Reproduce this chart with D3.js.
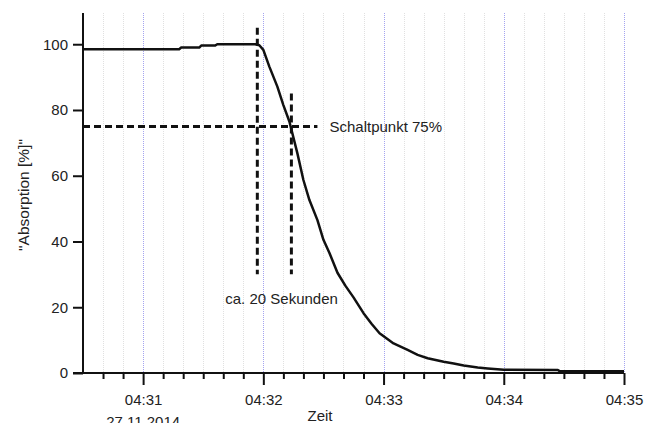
<!DOCTYPE html>
<html>
<head>
<meta charset="utf-8">
<script src="https://cdn.jsdelivr.net/npm/d3@7"></script>
<style>
  html, body { margin: 0; padding: 0; background: #fff; }
  svg { display: block; }
  text { font-family: "Liberation Sans", Arial, sans-serif; fill: #222; }
</style>
</head>
<body>
<svg id="chart" width="660" height="423"></svg>
<script>
// ---- data ----
const dateStr = "2014-11-27";
const times = ["04:30:30","04:31:18","04:31:19","04:31:28","04:31:29","04:31:36","04:31:37","04:31:56","04:31:58",
  "04:32:00","04:32:03","04:32:07","04:32:10","04:32:13","04:32:17","04:32:20","04:32:23","04:32:27","04:32:30",
  "04:32:33","04:32:37","04:32:41","04:32:45","04:32:50","04:32:54","04:32:58","04:33:05","04:33:12","04:33:17",
  "04:33:22","04:33:30","04:33:35","04:33:40","04:33:47","04:33:52","04:34:00","04:34:27","04:34:28","04:35:00"];
const absorption = [98.5,98.5,99.0,99.0,99.6,99.6,100,100,99.7,
  98.3,93.2,87.1,81.5,76.5,66.8,58.7,52.6,46.5,40.5,
  36.5,30.5,26.5,23,18.2,15,12.1,9.0,7.0,5.5,
  4.5,3.4,2.9,2.3,1.7,1.4,1.0,0.9,0.5,0.5];
const yTicks = [0, 20, 40, 60, 80, 100];
const xDomain = ["04:30:30", "04:35:00"];
const dateLabel = "27.11.2014";
const yTitle = "\"Absorption [%]\"";
const xTitle = "Zeit";
// annotations
const vLines = [{t: "04:31:57", y0: 30, y1: 105}, {t: "04:32:14", y0: 30, y1: 85}];
const hLine = {t0: "04:30:30", t1: "04:32:27", y: 75};
const notes = [{t: "04:32:33", y: 75, text: "Schaltpunkt 75%"}, {t: "04:31:41", y: 22.5, text: "ca. 20 Sekunden"}];

// ---- setup ----
const parse = d3.timeParse("%Y-%m-%d %H:%M:%S");
const T = s => parse(dateStr + " " + s);
const data = times.map((t, i) => ({t: T(t), v: absorption[i]}));

const svg = d3.select("#chart");
const mLeft = 83, mRight = 624, mTop = 13, mBottom = 373;
const x = d3.scaleTime().domain(xDomain.map(T)).range([mLeft, mRight]);
const y = d3.scaleLinear().domain([0, 109.5]).range([mBottom, mTop]);

// grid
const minorTicks = d3.timeSecond.every(10).range(T("04:30:40"), d3.timeSecond.offset(T(xDomain[1]), 1));
const majorTicks = d3.timeMinute.every(1).range(T("04:31:00"), d3.timeSecond.offset(T(xDomain[1]), 1));
const isMajor = d => d.getSeconds() === 0;
svg.append("g").selectAll("line").data(minorTicks).join("line")
  .attr("x1", d => Math.round(x(d)) + 0.5).attr("x2", d => Math.round(x(d)) + 0.5)
  .attr("y1", mTop).attr("y2", mBottom)
  .attr("stroke", d => isMajor(d) ? "#a4a4f0" : "#e0e0e0")
  .attr("stroke-width", 1)
  .attr("stroke-dasharray", "1,1");

// x axis minor ticks
const xAxisMinor = d3.axisBottom(x).tickValues(minorTicks.filter(d => !isMajor(d))).tickSize(6).tickFormat("");
const gxm = svg.append("g").attr("transform", `translate(0,${mBottom})`).call(xAxisMinor);
// x axis major
const xAxis = d3.axisBottom(x).tickValues(majorTicks).tickSize(12).tickPadding(9).tickFormat(d3.timeFormat("%H:%M"));
const gx = svg.append("g").attr("transform", `translate(0,${mBottom})`).call(xAxis);
[gx, gxm].forEach(g => {
  g.select(".domain").attr("stroke", "#111").attr("stroke-width", 2);
  g.selectAll(".tick line").attr("stroke", "#111").attr("stroke-width", 2);
});
gx.selectAll(".tick text").attr("font-size", 15).attr("fill", "#222").style("font-family", "Liberation Sans, Arial, sans-serif");
gx.select(".domain").attr("d", `M${mLeft - 10},0H${mRight}`);
gxm.select(".domain").remove();

// date second line under first major tick
svg.append("text").attr("x", x(majorTicks[0])).attr("y", 427)
  .attr("text-anchor", "middle").attr("font-size", 15).text(dateLabel);

// y axis
const yAxis = d3.axisLeft(y).tickValues(yTicks).tickSize(10).tickPadding(5);
const gy = svg.append("g").attr("transform", `translate(${mLeft},0)`).call(yAxis);
gy.select(".domain").attr("stroke", "#111").attr("stroke-width", 2).attr("d", `M0,${mTop}V${mBottom}`);
gy.selectAll(".tick line").attr("stroke", "#111").attr("stroke-width", 2);
gy.selectAll(".tick text").attr("font-size", 15).attr("fill", "#222").style("font-family", "Liberation Sans, Arial, sans-serif");

// titles
svg.append("text").attr("transform", `translate(29,195) rotate(-90)`)
  .attr("text-anchor", "middle").attr("font-size", 15.5).text(yTitle);
svg.append("text").attr("x", 320).attr("y", 421)
  .attr("text-anchor", "middle").attr("font-size", 15).text(xTitle);

// data line
const line = d3.line().x(d => x(d.t)).y(d => y(d.v));
svg.append("path").datum(data).attr("d", line)
  .attr("fill", "none").attr("stroke", "#111").attr("stroke-width", 2.5).attr("stroke-linejoin", "round");

// dashed annotations
const dash = "7,4";
svg.append("line").attr("x1", x(T(hLine.t0))).attr("x2", x(T(hLine.t1)))
  .attr("y1", y(hLine.y)).attr("y2", y(hLine.y))
  .attr("stroke", "#111").attr("stroke-width", 3).attr("stroke-dasharray", dash);
svg.append("g").selectAll("line").data(vLines).join("line")
  .attr("x1", d => x(T(d.t))).attr("x2", d => x(T(d.t)))
  .attr("y1", d => y(d.y1)).attr("y2", d => y(d.y0))
  .attr("stroke", "#111").attr("stroke-width", 3).attr("stroke-dasharray", dash);

svg.append("g").selectAll("text").data(notes).join("text")
  .attr("x", d => x(T(d.t))).attr("y", d => y(d.y)).attr("dy", "0.35em")
  .attr("font-size", 15).text(d => d.text);
</script>
</body>
</html>
